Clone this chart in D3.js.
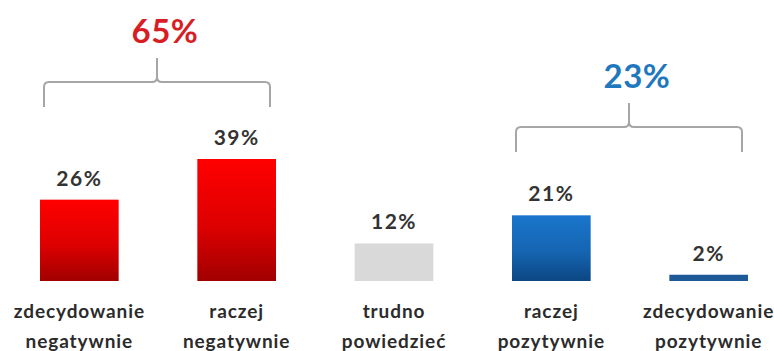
<!DOCTYPE html>
<html>
<head>
<meta charset="utf-8">
<script src="https://cdn.jsdelivr.net/npm/d3@7"></script>
<style>
  body { margin: 0; background: #fff; }
  svg text { font-family: Lato, "Open Sans", sans-serif; font-weight: 700; }
</style>
</head>
<body>
<div id="chart"></div>
<script>
// categories (two lines each) and values in percent
const categories = ["zdecydowanie negatywnie", "raczej negatywnie", "trudno powiedzieć", "raczej pozytywnie", "zdecydowanie pozytywnie"];
const labelLines = [["zdecydowanie", "negatywnie"], ["raczej", "negatywnie"], ["trudno", "powiedzieć"], ["raczej", "pozytywnie"], ["zdecydowanie", "pozytywnie"]];
const values = [26, 39, 12, 21, 2];
const fills = ["red", "red", "grey", "blue", "blueFlat"];

// group totals shown over braces
const groupLabels = ["65%", "23%"];
const groupMembers = [[0, 1], [3, 4]];
const groupColors = ["#d81e25", "#1f78be"];

const width = 774, height = 351;
const baseline = 281;

const svg = d3.select("#chart").append("svg")
    .attr("width", width)
    .attr("height", height);

// gradients
const defs = svg.append("defs");
function grad(id, top, bottom) {
    let g = defs.append("linearGradient")
        .attr("id", id)
        .attr("x1", 0).attr("y1", 0).attr("x2", 0).attr("y2", 1);
    g.append("stop").attr("offset", "0%").attr("stop-color", top);
    g.append("stop").attr("offset", "55%").attr("stop-color", d3.interpolateRgb(top, bottom)(0.35));
    g.append("stop").attr("offset", "100%").attr("stop-color", bottom);
}
grad("red", "#ff0000", "#a10000");
grad("blue", "#1a76cc", "#0c4683");

const fillMap = {
    red: "url(#red)",
    blue: "url(#blue)",
    grey: "#d9d9d9",
    blueFlat: "#1e5a97"
};

// scales
const x = d3.scaleBand()
    .domain(categories)
    .range([40, 748])
    .paddingInner(0.5)
    .paddingOuter(0);

const y = d3.scaleLinear()
    .domain([0, 39])
    .range([baseline, 159]);

// bars
svg.selectAll(".bar")
    .data(values)
    .enter().append("rect")
    .attr("class", "bar")
    .attr("x", (d, i) => x(categories[i]))
    .attr("y", d => y(d))
    .attr("width", x.bandwidth())
    .attr("height", d => baseline - y(d))
    .style("fill", (d, i) => fillMap[fills[i]]);

// value labels
svg.selectAll(".value")
    .data(values)
    .enter().append("text")
    .attr("class", "value")
    .attr("x", (d, i) => x(categories[i]) + x.bandwidth() / 2)
    .attr("y", d => y(d) - 14)
    .attr("text-anchor", "middle")
    .style("font-size", "21px")
    .style("letter-spacing", "1.5px")
    .style("fill", "#333")
    .text(d => d + "%");

// category labels
let cat = svg.selectAll(".cat")
    .data(labelLines)
    .enter().append("text")
    .attr("class", "cat")
    .attr("text-anchor", "middle")
    .style("font-size", "19px")
    .style("letter-spacing", "0.9px")
    .style("fill", "#2b2b2b");

cat.selectAll("tspan")
    .data((d, i) => d.map(t => ({ t: t, i: i })))
    .enter().append("tspan")
    .attr("x", d => x(categories[d.i]) + x.bandwidth() / 2)
    .attr("y", (d, j) => 318 + j * 30)
    .text(d => d.t);

// braces above groups
const braceY = [82, 127];
function bracePath(x0, x1, yh) {
    let cx = (x0 + x1) / 2, r = 5, legDown = 25, tick = 24;
    return "M" + x0 + "," + (yh + legDown) +
        "L" + x0 + "," + (yh + r) +
        "Q" + x0 + "," + yh + " " + (x0 + r) + "," + yh +
        "L" + (cx - r) + "," + yh +
        "Q" + cx + "," + yh + " " + cx + "," + (yh - r) +
        "L" + cx + "," + (yh - tick) +
        "M" + cx + "," + (yh - r) +
        "Q" + cx + "," + yh + " " + (cx + r) + "," + yh +
        "L" + (x1 - r) + "," + yh +
        "Q" + x1 + "," + yh + " " + x1 + "," + (yh + r) +
        "L" + x1 + "," + (yh + legDown);
}

groupMembers.forEach((m, g) => {
    let x0 = x(categories[m[0]]) + 4;
    let x1 = x(categories[m[m.length - 1]]) + x.bandwidth() - 6;
    svg.append("path")
        .attr("d", bracePath(x0, x1, braceY[g]))
        .style("fill", "none")
        .style("stroke", "#a6a6a6")
        .style("stroke-width", 2);

    svg.append("text")
        .attr("x", (x0 + x1) / 2 + 8)
        .attr("y", braceY[g] - 39)
        .attr("text-anchor", "middle")
        .style("font-size", "33px")
        .style("letter-spacing", "0.5px")
        .style("fill", groupColors[g])
        .text(groupLabels[g]);
});
</script>
</body>
</html>
